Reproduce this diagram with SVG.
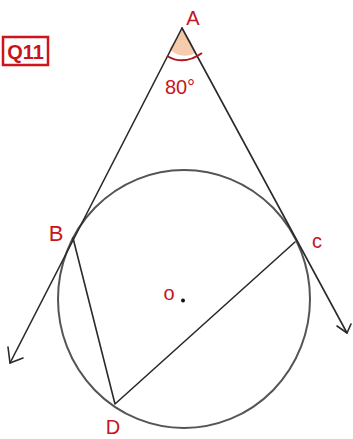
<svg xmlns="http://www.w3.org/2000/svg" width="353" height="439" viewBox="0 0 353 439">
<style>
.lbl{font-family:"Liberation Sans","DejaVu Sans",sans-serif;fill:#c8141c;text-anchor:middle}
.ln{stroke:#2a2a2a;stroke-width:1.6;fill:none;stroke-linecap:round;stroke-linejoin:round}
.circ{stroke:#555;stroke-width:2;fill:none}
</style>
<rect width="353" height="439" fill="#fff"/>
<g id="title">
<rect x="3" y="37" width="45" height="28" fill="none" stroke="#d0141c" stroke-width="2.5"/>
<text class="lbl" x="25.5" y="59" font-size="20" font-weight="bold">Q11</text>
</g>
<g id="circle">
<ellipse class="circ" cx="184" cy="299" rx="126" ry="129"/>
</g>
<g id="connectors">
<path d="M182,29 L176,40 L190,40 Z" fill="#f4c7a4" stroke="none"/>
<path d="M169,49 Q181,60 196,53 L190,40 L176,40 Z" fill="#f4c7a4" stroke="none" opacity="0.9"/>
<path class="ln" d="M182,28 L10,363"/>
<path class="ln" d="M182,28 L347,333"/>
<path class="ln" d="M8,347 L10,363 L23,358"/>
<path class="ln" d="M337,326 L347,333 L351,324"/>
<path class="ln" d="M73,238 L115,404 L295,242"/>
<path d="M167,56 Q184,66 202,53" fill="none" stroke="#b0141c" stroke-width="2"/>
</g>
<g id="A"><text class="lbl" x="193" y="25" font-size="20">A</text></g>
<g id="angle"><text class="lbl" x="180" y="94" font-size="20">80°</text></g>
<g id="B"><text class="lbl" x="56" y="241" font-size="22">B</text></g>
<g id="C"><text class="lbl" x="317" y="248" font-size="20">c</text></g>
<g id="D"><text class="lbl" x="113" y="434" font-size="20">D</text></g>
<g id="O">
<text class="lbl" x="169" y="300" font-size="20">o</text>
<circle cx="183" cy="300.5" r="2" fill="#111"/>
</g>
</svg>
